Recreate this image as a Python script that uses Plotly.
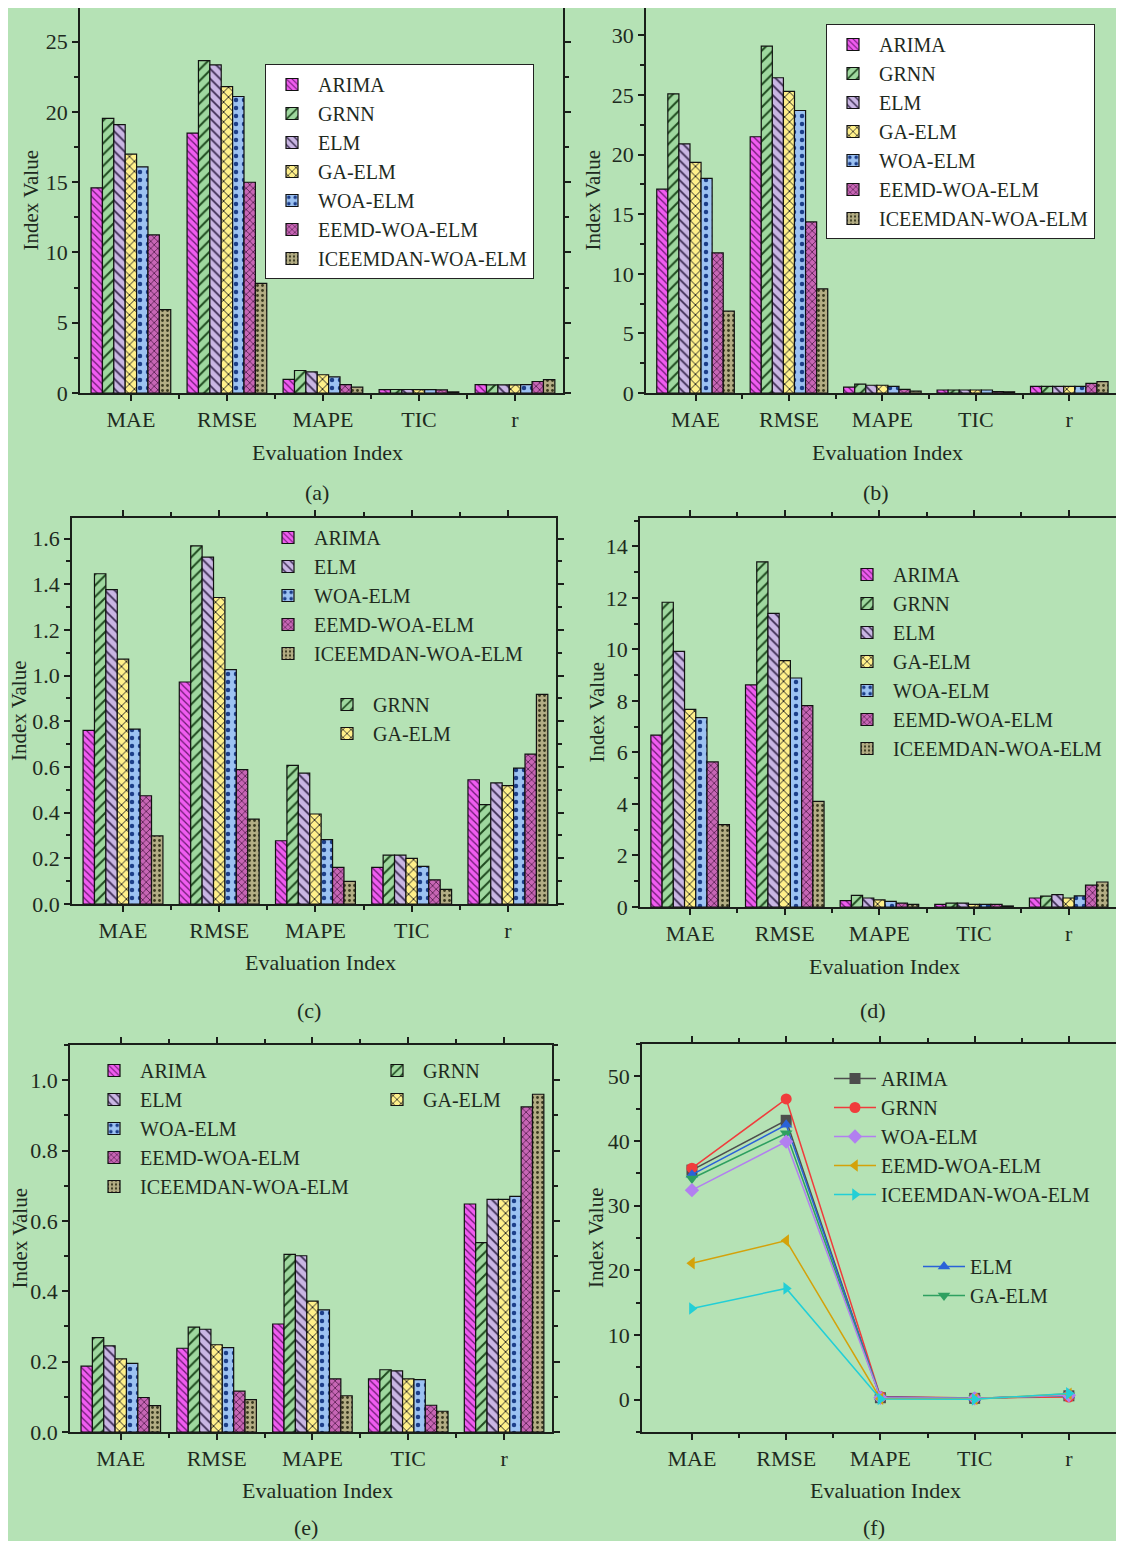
import plotly.graph_objects as go

categories = ["MAE", "RMSE", "MAPE", "TIC", "r"]
models = ["ARIMA", "GRNN", "ELM", "GA-ELM", "WOA-ELM", "EEMD-WOA-ELM", "ICEEMDAN-WOA-ELM"]

# panel (a) values, one row per model
a_vals = [
    [14.6, 18.5, 0.97, 0.24, 0.60],
    [19.55, 23.65, 1.6, 0.25, 0.58],
    [19.1, 23.35, 1.5, 0.25, 0.58],
    [17.0, 21.8, 1.3, 0.24, 0.58],
    [16.1, 21.1, 1.15, 0.24, 0.60],
    [11.25, 15.0, 0.6, 0.22, 0.82],
    [5.94, 7.8, 0.42, 0.08, 0.95],
]
b_vals = [
    [17.1, 21.5, 0.5, 0.25, 0.55],
    [25.1, 29.1, 0.75, 0.25, 0.55],
    [20.9, 26.45, 0.65, 0.25, 0.55],
    [19.35, 25.3, 0.65, 0.25, 0.55],
    [18.0, 23.7, 0.55, 0.25, 0.55],
    [11.75, 14.35, 0.3, 0.12, 0.8],
    [6.87, 8.74, 0.15, 0.1, 0.95],
]
c_vals = [
    [0.76, 0.972, 0.277, 0.16, 0.544],
    [1.446, 1.568, 0.607, 0.214, 0.435],
    [1.376, 1.519, 0.573, 0.214, 0.53],
    [1.072, 1.342, 0.394, 0.2, 0.518],
    [0.766, 1.026, 0.282, 0.165, 0.595],
    [0.474, 0.588, 0.16, 0.106, 0.656],
    [0.298, 0.372, 0.099, 0.064, 0.918],
]
d_vals = [
    [6.67, 8.62, 0.25, 0.1, 0.35],
    [11.83, 13.4, 0.45, 0.15, 0.42],
    [9.92, 11.4, 0.35, 0.15, 0.48],
    [7.67, 9.56, 0.28, 0.1, 0.35],
    [7.35, 8.89, 0.22, 0.1, 0.43],
    [5.63, 7.82, 0.15, 0.1, 0.85],
    [3.2, 4.1, 0.1, 0.04, 0.97],
]
e_vals = [
    [0.187, 0.238, 0.307, 0.151, 0.648],
    [0.268, 0.298, 0.505, 0.177, 0.538],
    [0.245, 0.292, 0.501, 0.174, 0.661],
    [0.208, 0.248, 0.372, 0.151, 0.661],
    [0.195, 0.24, 0.347, 0.149, 0.67],
    [0.098, 0.116, 0.151, 0.076, 0.924],
    [0.075, 0.092, 0.103, 0.059, 0.96],
]
f_vals = [
    [35.5, 43.2, 0.3, 0.2, 0.6],
    [35.8, 46.5, 0.5, 0.25, 0.4],
    [34.8, 42.5, 0.4, 0.22, 0.65],
    [34.2, 41.2, 0.35, 0.2, 0.66],
    [32.4, 39.9, 0.3, 0.2, 0.67],
    [21.1, 24.6, 0.15, 0.1, 0.9],
    [14.1, 17.2, 0.1, 0.06, 0.96],
]

OFF = 8  # page body margin
W, H = 1124 - 2 * OFF, 1549 - 2 * OFF
BG = "#b5e2b5"
FONT = "Liberation Serif, Times New Roman, DejaVu Serif, serif"
TXT = "#1e2a1e"
AX = "#1a1f1a"

bar_fill = ["#f05cf0", "#9fd89f", "#c9b6e3", "#fff08a", "#9cc2f2", "#c766b5", "#b3ad84"]
bar_fg = ["#6a1a70", "#1f4a1f", "#3a2a50", "#222222", "#1d3f8a", "#3f0f3a", "#3a3a20"]
bar_shape = ["\\", "/", "\\", "x", ".", "x", "."]
bar_size = [5, 8, 7, 7, 8, 5, 5]

line_col = ["#4d4d4d", "#f03c3c", "#2a62d8", "#2ea060", "#b27ff0", "#d4a20a", "#22cfd6"]
line_sym = ["square", "circle", "triangle-up", "triangle-down", "diamond", "triangle-left", "triangle-right"]

x_num = [1, 2, 3, 4, 5]


def clamp(v):
    return max(0.0, min(1.0, v))


def px_x(v):
    return (v - OFF) / W


def px_y(v):
    return 1 - (v - OFF) / H


# panel boxes in reference pixels: left, right, top, bottom
boxes = {
    1: (80, 563, 8, 393),
    2: (646, 1116, 8, 393),
    3: (72, 556, 518, 904),
    4: (640, 1116, 518, 907),
    5: (70, 552, 1045, 1432),
    6: (642, 1116, 1044, 1432),
}
yranges = {1: [0, 27.4], 2: [0, 32.3], 3: [0, 1.69], 4: [0, 15.1], 5: [0, 1.1], 6: [-5, 55]}
ydticks = {1: 5, 2: 5, 3: 0.2, 4: 2, 5: 0.2, 6: 10}
yminor = {1: 2.5, 2: 2.5, 3: 0.1, 4: 1, 5: 0.1, 6: 5}
yfmt = {1: "d", 2: "d", 3: ".1f", 4: "d", 5: ".1f", 6: "d"}

fig = go.Figure()

bar_panels = [(1, a_vals, "legend"), (2, b_vals, "legend2"), (3, c_vals, None),
              (4, d_vals, "legend5"), (5, e_vals, None)]
for p, vals, leg in bar_panels:
    sfx = "" if p == 1 else str(p)
    for i, m in enumerate(models):
        if leg is None:
            if p == 3:
                lg = "legend4" if m in ("GRNN", "GA-ELM") else "legend3"
            else:
                lg = "legend7" if m in ("GRNN", "GA-ELM") else "legend6"
        else:
            lg = leg
        fig.add_trace(go.Bar(
            x=x_num, y=vals[i], name=m, legend=lg,
            xaxis="x" + sfx, yaxis="y" + sfx,
            marker=dict(color=bar_fill[i],
                        line=dict(color="#111111", width=1.2),
                        pattern=dict(shape=bar_shape[i], fgcolor=bar_fg[i], bgcolor=bar_fill[i],
                                     size=bar_size[i], solidity=0.25, fillmode="replace")),
        ))

for i, m in enumerate(models):
    lg = "legend9" if m in ("ELM", "GA-ELM") else "legend8"
    fig.add_trace(go.Scatter(
        x=x_num, y=f_vals[i], name=m, legend=lg, mode="lines+markers",
        xaxis="x6", yaxis="y6",
        line=dict(color=line_col[i], width=1.5),
        marker=dict(symbol=line_sym[i], size=11, color=line_col[i]),
    ))

layout = dict(
    width=W, height=H, margin=dict(l=0, r=0, t=0, b=0, autoexpand=False),
    paper_bgcolor=BG, plot_bgcolor=BG,
    font=dict(family=FONT, size=21, color=TXT),
    barmode="group", bargap=0.17, bargroupgap=0.0,
    showlegend=True,
)

for p, (l, r, t, b) in boxes.items():
    sfx = "" if p == 1 else str(p)
    layout["xaxis" + sfx] = dict(
        domain=[clamp(px_x(l)), clamp(px_x(r))], anchor="y" + sfx, range=[0.47, 5.5],
        tickmode="array", tickvals=x_num, ticktext=categories,
        ticks="outside", ticklen=6, tickwidth=1.5, tickcolor=AX,
        minor=dict(tickvals=[1.5, 2.5, 3.5, 4.5], ticks="outside", ticklen=4, tickcolor=AX),
        showline=True, linecolor=AX, linewidth=1.8, mirror="ticks",
        showgrid=False, zeroline=False, fixedrange=True, automargin=False,
        tickfont=dict(family=FONT, size=22, color=TXT),
    )
    layout["yaxis" + sfx] = dict(
        domain=[clamp(px_y(b)), clamp(px_y(t))], anchor="x" + sfx, range=yranges[p],
        tick0=0, dtick=ydticks[p], tickformat=yfmt[p],
        ticks="outside", ticklen=6, tickwidth=1.5, tickcolor=AX,
        minor=dict(dtick=yminor[p], ticks="outside", ticklen=4, tickcolor=AX),
        showline=True, linecolor=AX, linewidth=1.8, mirror="ticks",
        showgrid=False, zeroline=False, fixedrange=True, automargin=False,
        tickfont=dict(family=FONT, size=22, color=TXT),
    )


def legend_cfg(xp, yp, white):
    d = dict(x=px_x(xp), y=px_y(yp), xanchor="left", yanchor="top",
             font=dict(family=FONT, size=20, color=TXT), tracegroupgap=0,
             traceorder="normal", itemwidth=42)
    if white:
        d.update(bgcolor="white", bordercolor="#222222", borderwidth=1)
    else:
        d.update(bgcolor="rgba(0,0,0,0)", borderwidth=0)
    return d


layout["legend"] = legend_cfg(265, 64, True)
layout["legend2"] = legend_cfg(826, 24, True)
layout["legend3"] = legend_cfg(262, 518, False)
layout["legend4"] = legend_cfg(321, 685, False)
layout["legend5"] = legend_cfg(841, 555, False)
layout["legend6"] = legend_cfg(88, 1051, False)
layout["legend7"] = legend_cfg(371, 1051, False)
layout["legend8"] = legend_cfg(829, 1059, False)
layout["legend9"] = legend_cfg(918, 1247, False)

annotations = []
ytitle_x = {1: 30, 2: 592, 3: 19, 4: 596, 5: 19, 6: 596}
xtitle_y = {1: 452, 2: 452, 3: 962, 4: 966, 5: 1490, 6: 1490}
panel_lbl = {1: "(a)", 2: "(b)", 3: "(c)", 4: "(d)", 5: "(e)", 6: "(f)"}
lbl_y = {1: 492, 2: 492, 3: 1010, 4: 1010, 5: 1527, 6: 1527}
for p, (l, r, t, b) in boxes.items():
    annotations.append(dict(text="Index Value", xref="paper", yref="paper",
                            x=px_x(ytitle_x[p]), y=px_y((t + b) / 2), textangle=-90,
                            xanchor="center", yanchor="middle",
                            showarrow=False, font=dict(family=FONT, size=21, color=TXT)))
    annotations.append(dict(text="Evaluation Index", xref="paper", yref="paper",
                            x=px_x((l + r) / 2 + 6), y=px_y(xtitle_y[p]),
                            xanchor="center", yanchor="middle",
                            showarrow=False, font=dict(family=FONT, size=22, color=TXT)))
    annotations.append(dict(text=panel_lbl[p], xref="paper", yref="paper",
                            x=px_x((l + r) / 2 - 5), y=px_y(lbl_y[p]),
                            xanchor="center", yanchor="middle",
                            showarrow=False, font=dict(family=FONT, size=22, color=TXT)))
layout["annotations"] = annotations

fig.update_layout(**layout)
fig.write_html("out.html")
